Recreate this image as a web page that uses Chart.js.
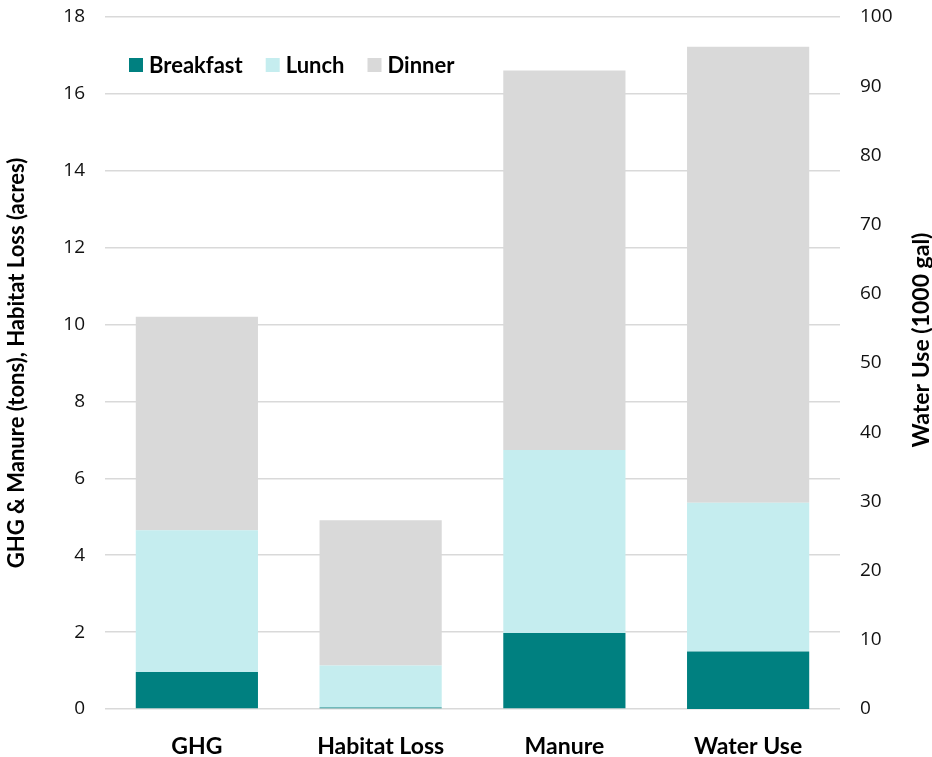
<!DOCTYPE html>
<html>
<head>
<meta charset="utf-8">
<script src="https://cdn.jsdelivr.net/npm/chart.js@4"></script>
<style>
  html, body { margin: 0; padding: 0; background: #fff; }
  #wrap { width: 932px; height: 757px; position: relative; }
</style>
</head>
<body>
<div id="wrap"><canvas id="mealChart"></canvas></div>
<script>
// categories; the last one (Water Use) is read on the right axis
const categories = ["GHG", "Habitat Loss", "Manure", "Water Use"];
const breakfast = [0.96, 0.04, 1.98, 8.3];
const lunch = [3.69, 1.09, 4.76, 21.5];
const dinner = [5.55, 3.78, 9.87, 65.9];
const leftTicks = [0, 2, 4, 6, 8, 10, 12, 14, 16, 18];
const rightTicks = [0, 10, 20, 30, 40, 50, 60, 70, 80, 90, 100];

const colors = ['#008080', '#C5EDEF', '#D9D9D9'];
const meals = [["Breakfast", breakfast], ["Lunch", lunch], ["Dinner", dinner]];
const titleFont = { family: 'Lato', size: 22, weight: 'bold' };
const catFont = { family: 'Lato', size: 23, weight: 'bold' };

// left axis gets the first three categories, right axis the water use
const onLeft = arr => arr.map((v, i) => i < 3 ? v : null);
const onRight = arr => arr.map((v, i) => i === 3 ? v : null);

const datasets = [];
meals.forEach(([name, arr], i) => {
    datasets.push({ label: name, data: onLeft(arr), backgroundColor: colors[i], yAxisID: 'y', stack: 'a', inLegend: true });
});
meals.forEach(([name, arr], i) => {
    datasets.push({ label: name, data: onRight(arr), backgroundColor: colors[i], yAxisID: 'y1', stack: 'a', inLegend: false });
});

// legend inside the plot and the right axis title (reads bottom to top)
const extras = {
    id: 'extras',
    afterDraw(chart) {
        const ctx = chart.ctx;
        const area = chart.chartArea;
        ctx.save();
        ctx.font = 'bold 22px Lato';
        ctx.textBaseline = 'middle';
        let x = area.left + 24;
        const y = area.top + 48;
        chart.data.datasets.filter(d => d.inLegend).forEach(d => {
            ctx.fillStyle = d.backgroundColor;
            ctx.fillRect(x, y - 7, 14, 14);
            ctx.fillStyle = '#000';
            ctx.fillText(d.label, x + 20, y + 1);
            x += 20 + ctx.measureText(d.label).width + 23;
        });
        const r = chart.scales.y1;
        ctx.font = 'bold 23px Lato';
        ctx.translate(r.right - 10, (area.top + area.bottom) / 2 - 23);
        ctx.rotate(-Math.PI / 2);
        ctx.textAlign = 'center';
        ctx.fillText('Water Use (1000 gal)', 0, 0);
        ctx.restore();
    }
};

// fixed axis sizes so the plot area sits where the original one does
const fixWidth = w => s => { s.width = w; s.paddingTop = 0; s.paddingBottom = 0; };

Chart.defaults.color = '#000';

new Chart(document.getElementById('mealChart'), {
    type: 'bar',
    data: { labels: categories, datasets: datasets },
    options: {
        responsive: true,
        maintainAspectRatio: false,
        animation: false,
        layout: { padding: { top: 17, left: 0, right: 0, bottom: 0 } },
        datasets: { bar: { barPercentage: 1, categoryPercentage: 0.665, borderWidth: 0 } },
        plugins: {
            legend: { display: false },
            tooltip: { enabled: false }
        },
        scales: {
            x: {
                stacked: true,
                grid: { display: false },
                border: { display: false },
                ticks: { font: catFont, padding: 16 },
                afterFit: s => { s.height = 48; }
            },
            y: {
                position: 'left',
                stacked: true,
                min: 0,
                max: 18,
                afterBuildTicks: s => { s.ticks = leftTicks.map(v => ({ value: v })); },
                grid: { color: '#D9D9D9', lineWidth: 1.5, drawTicks: false },
                border: { display: false },
                ticks: { font: { family: 'Open Sans', size: 19 }, color: '#111', padding: 20 },
                title: {
                    display: true,
                    text: 'GHG & Manure (tons), Habitat Loss (acres)',
                    font: titleFont,
                    padding: { top: 4, bottom: 0 }
                },
                afterFit: fixWidth(105)
            },
            y1: {
                position: 'right',
                stacked: true,
                min: 0,
                max: 100,
                afterBuildTicks: s => { s.ticks = rightTicks.map(v => ({ value: v })); },
                grid: { display: false },
                border: { display: false },
                ticks: { font: { family: 'Open Sans', size: 19 }, color: '#111', padding: 12 },
                afterFit: fixWidth(92)
            }
        }
    },
    plugins: [extras]
});
</script>
</body>
</html>
